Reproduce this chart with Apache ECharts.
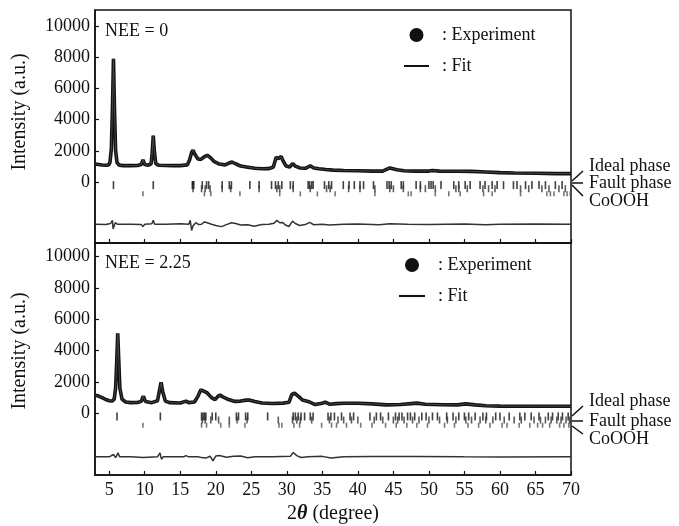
<!DOCTYPE html>
<html>
<head>
<meta charset="utf-8">
<title>XRD Rietveld refinement</title>
<script src="https://cdn.jsdelivr.net/npm/echarts@6/dist/echarts.min.js"></script>
<style>
  html, body { margin: 0; padding: 0; background: #fff; }
  #chart { width: 679px; height: 526px; }
</style>
</head>
<body>
<div id="chart"></div>
<script>
// ---- NEE = 0 : observed / fitted profile ----
const twoTheta0 = [3.0, 3.5, 4.0, 4.5, 4.9, 5.1, 5.3, 5.45, 5.6, 5.75, 5.9, 6.1, 6.4, 7.0, 8.0, 9.0, 9.5, 9.75, 10.0, 10.5,
  10.9, 11.05, 11.2, 11.35, 11.55, 12.0, 13.0, 14.0, 15.0, 16.0, 16.3, 16.6, 16.8, 17.1, 17.5, 17.9, 18.4, 18.8, 19.2, 19.8,
  20.5, 21.3, 21.8, 22.3, 22.8, 23.5, 24.5, 25.5, 26.5, 27.5, 28.1, 28.5, 28.8, 29.2, 29.5, 29.9, 30.4, 30.8, 31.2, 31.8,
  32.6, 33.3, 33.8, 34.5, 35.5, 36.5, 38.0, 40.0, 42.0, 43.5, 44.5, 45.5, 46.5, 48.0, 50.0, 50.5, 51.5, 54.0, 56.0, 58.0,
  60.0, 62.0, 65.0, 68.0, 70.0];
const intensity0 = [1150, 1120, 1090, 1070, 1090, 1250, 2100, 4600, 7900, 4500, 2000, 1250, 1080, 1050, 1050, 1060, 1120, 1420, 1120, 1070,
  1180, 1850, 2980, 2000, 1180, 1070, 1060, 1050, 1050, 1100, 1400, 1900, 2030, 1750, 1480, 1450, 1620, 1710, 1580, 1300,
  1150, 1100, 1200, 1280, 1170, 1020, 950, 880, 850, 860, 960, 1580, 1500, 1640, 1330, 1020, 960, 1180, 1020, 900,
  880, 1030, 900, 850, 800, 760, 740, 720, 700, 700, 900, 780, 720, 700, 700, 740, 700, 690, 680, 640,
  600, 580, 560, 540, 540];
// difference curve (observed - fitted)
const diffTheta0 = [3, 4.5, 5.2, 5.45, 5.55, 5.7, 5.85, 6.2, 8, 9.5, 9.75, 10.0, 11.0, 11.2, 11.4, 13, 15, 16.2, 16.4, 16.6,
  16.8, 17.2, 17.6, 18.0, 18.4, 18.8, 19.4, 20.0, 20.8, 21.5, 22.2, 22.8, 23.5, 24.5, 25.4, 26.5, 27.5, 28.2, 28.6, 29.0,
  29.4, 29.8, 30.3, 30.8, 31.2, 31.8, 32.6, 33.2, 33.8, 35, 36, 38, 40, 43, 44.5, 47, 50, 55, 58, 60, 65, 70];
const residual0 = [0, -20, 50, 250, -300, -350, 100, 0, 0, -20, -150, 0, 30, 250, 0, 0, 30, 0, 250, -400,
  -100, 100, -20, 0, 150, 100, 0, -80, -150, -20, 100, 50, -50, -30, -120, -20, 0, 60, 250, 100,
  120, -50, -140, 200, 50, -80, -20, 120, -30, 0, -50, 0, 20, -30, 40, 0, -20, 20, -30, 0, 20, 0];
const idealTicks0 = [5.6, 11.2, 16.7, 16.8, 16.9, 18.1, 18.7, 19.0, 20.9, 21.9, 22.2, 24.8, 26.1, 27.85, 28.4, 28.8, 29.3, 30.5, 30.9,
  33.0, 33.2, 33.5, 33.7, 35.3, 35.9, 36.3, 37.95, 38.75, 39.5, 40.3, 40.8, 42.2, 44.1, 44.4, 44.7, 46.1, 46.4, 48.2, 48.8,
  50.0, 50.3, 50.6, 51.7, 53.5, 54.2, 55.1, 55.8, 57.2, 57.9, 58.9, 59.6, 60.5, 61.9, 62.4, 63.6, 64.5, 65.5, 66.4, 67.8, 68.75];
const faultTicks0 = [16.8, 18.0, 18.5, 19.2, 20.9, 22.1, 26.1, 28.6, 29.0, 30.9, 33.3, 35.6, 36.1, 38.7, 40.3, 42.4, 44.5, 45.0,
  46.4, 48.8, 49.5, 50.9, 53.8, 54.2, 55.4, 57.6, 58.4, 59.3, 62.9, 64.05, 65.9, 66.9, 68.3, 69.2];
const coohTicks0 = [9.75, 18.4, 19.3, 23.4, 29.0, 31.9, 34.3, 36.8, 42.4, 47.1, 47.5, 50.9, 52.8, 54.4, 57.7, 58.9, 62.9,
  66.6, 67.1, 67.6, 69.0, 69.45, 69.9];

// ---- NEE = 2.25 : observed / fitted profile ----
const twoTheta1 = [3.0, 3.5, 4.0, 4.5, 5.0, 5.4, 5.7, 5.9, 6.05, 6.2, 6.35, 6.5, 6.8, 7.3, 8.0, 9.0, 9.5, 9.8, 10.1, 11.0,
  11.8, 12.05, 12.3, 12.55, 12.9, 13.5, 15.0, 15.8, 16.2, 17.0, 17.5, 17.9, 18.3, 18.8, 19.4, 19.9, 20.3, 20.6, 21.0, 21.8,
  22.7, 23.5, 24.3, 24.8, 25.5, 26.5, 28.0, 29.5, 30.3, 30.7, 31.1, 31.6, 32.2, 33.0, 34.0, 34.8, 35.4, 36.0, 37.0, 38.0,
  40.0, 42.0, 44.0, 46.0, 47.5, 48.3, 49.5, 52.0, 54.0, 55.2, 56.5, 58.0, 60.0, 63.0, 66.0, 70.0];
const intensity1 = [1150, 1100, 1000, 880, 800, 780, 900, 1600, 3200, 5100, 3300, 1600, 900, 720, 680, 690, 760, 1100, 760, 680,
  800, 1400, 1980, 1350, 780, 680, 660, 780, 680, 720, 1100, 1500, 1420, 1300, 1000, 870, 1080, 1160, 1050, 880,
  760, 780, 840, 840, 760, 660, 630, 650, 700, 1200, 1280, 1100, 850, 760, 560, 620, 710, 580, 620, 640,
  640, 600, 540, 560, 620, 650, 580, 550, 540, 600, 540, 480, 460, 450, 450, 450];
const diffTheta1 = [3, 5, 5.6, 5.9, 6.1, 6.25, 6.45, 8, 9.8, 11.8, 12.15, 12.35, 12.6, 15.5, 15.8, 16.2, 17.5, 18.0, 18.6, 19.2,
  19.6, 20.0, 20.5, 21.5, 22.5, 23.5, 24.5, 25.5, 28, 30.5, 30.9, 31.4, 32.0, 33, 35, 36.2, 38, 42, 48, 55, 60, 70];
const residual1 = [0, 0, 150, -50, -150, 250, 0, 0, -50, 0, 250, -150, 0, 0, 80, 0, 0, -50, -80, 40,
  -250, 50, 80, -30, 30, 50, -60, 0, 0, 30, 280, 80, -40, 0, 30, -70, 0, 20, 20, 0, -10, 0];
const idealTicks1 = [6.1, 12.2, 18.0, 18.2, 18.4, 18.6, 19.5, 20.0, 22.9, 23.2, 24.2, 24.5, 27.3, 30.9, 31.2, 31.6, 32.0, 32.5,
  33.3, 33.7, 35.8, 36.2, 36.7, 37.7, 38.9, 39.4, 41.7, 42.6, 43.2, 44.3, 45.3, 45.8, 46.2, 47.0, 47.4, 48.0, 49.0, 49.6,
  50.5, 51.2, 52.5, 53.4, 54.2, 55.0, 55.6, 56.5, 57.6, 58.1, 59.4, 60.0, 61.3, 62.8, 63.5, 64.4, 65.5, 66.8, 67.4, 68.2, 68.8, 69.6];
const faultTicks1 = [18.1, 18.5, 19.3, 20.4, 21.9, 23.0, 24.4, 28.8, 30.8, 31.4, 31.9, 33.5, 36.0, 37.2, 38.0, 39.1, 40.0, 42.3,
  43.5, 45.0, 45.6, 46.5, 47.7, 48.6, 50.0, 51.5, 52.6, 53.8, 55.2, 56.0, 57.2, 58.0, 59.0, 60.6, 62.0, 63.0, 64.8, 65.7,
  66.4, 67.2, 68.0, 68.6, 69.3, 69.8];
const coohTicks1 = [9.75, 18.0, 18.7, 20.7, 21.9, 24.1, 28.9, 29.3, 31.0, 31.8, 34.9, 36.3, 37.0, 38.4, 40.4, 42.0, 43.9, 45.4,
  46.9, 48.3, 49.8, 52.2, 53.6, 55.5, 57.0, 58.6, 60.3, 61.0, 62.7, 64.2, 65.3, 66.0, 67.0, 68.4, 69.0, 69.7];

// ---- axis ticks ----
const xTicks = [5, 10, 15, 20, 25, 30, 35, 40, 45, 50, 55, 60, 65, 70];
const yTicks = [0, 2000, 4000, 6000, 8000, 10000];
const panelTitles = ['NEE = 0', 'NEE = 2.25'];
const phaseNames = ['Ideal phase', 'Fault phase', 'CoOOH'];

// vertical placement (intensity units) of the difference curve and reflection rows
const diffOffset = [-2710, -2780];
const rowLevel = { ideal: -200, fault: -430, cooh: -760 };

const FONT = '"Liberation Serif", "Times New Roman", serif';
const INK = '#111';

const zip = (xs, ys, off = 0) => xs.map((x, i) => [x, ys[i] + off]);

const panels = [
  { tt: twoTheta0, it: intensity0, dt: diffTheta0, rs: residual0,
    ideal: idealTicks0, fault: faultTicks0, cooh: coohTicks0 },
  { tt: twoTheta1, it: intensity1, dt: diffTheta1, rs: residual1,
    ideal: idealTicks1, fault: faultTicks1, cooh: coohTicks1 }
];

const grids = [
  { left: 95, top: 10, width: 476, height: 233 },
  { left: 95, top: 243, width: 476, height: 232 }
];
const yRange = [[-3910, 11026], [-3940, 10875]];

const xAxes = grids.map((g, i) => ({
  type: 'value', gridIndex: i, min: 3, max: 70,
  axisLine: { show: true, onZero: false, lineStyle: { color: INK, width: 1.5 } },
  axisTick: { show: true, inside: true, length: 4, customValues: xTicks, lineStyle: { color: INK, width: 1.2 } },
  axisLabel: { show: i === 1, customValues: xTicks, fontFamily: FONT, fontSize: 18, color: INK, margin: 6,
    formatter: v => String(v) },
  splitLine: { show: false },
  name: i === 1 ? '{n|2}{t|θ}{n| (degree)}' : '',
  nameLocation: 'middle', nameGap: 29,
  nameTextStyle: { rich: {
    n: { fontFamily: FONT, fontSize: 20, color: INK },
    t: { fontFamily: FONT, fontSize: 20, color: INK, fontStyle: 'italic', fontWeight: 'bold' }
  } }
}));

const yAxes = grids.map((g, i) => ({
  type: 'value', gridIndex: i, min: yRange[i][0], max: yRange[i][1],
  axisLine: { show: true, onZero: false, lineStyle: { color: INK, width: 1.5 } },
  axisTick: { show: true, inside: true, length: 4, customValues: yTicks, lineStyle: { color: INK, width: 1.2 } },
  axisLabel: { show: true, customValues: yTicks, fontFamily: FONT, fontSize: 18, color: INK, margin: 5,
    formatter: v => String(v) },
  splitLine: { show: false }
}));

const series = [];
panels.forEach((p, i) => {
  series.push({
    name: 'Experiment', type: 'line', xAxisIndex: i, yAxisIndex: i,
    data: zip(p.tt, p.it), symbol: 'none', silent: true, z: 2,
    itemStyle: { color: INK }, lineStyle: { color: INK, width: 3.6 }
  });
  series.push({
    name: 'Fit', type: 'line', xAxisIndex: i, yAxisIndex: i,
    data: zip(p.tt, p.it), symbol: 'none', silent: true, z: 3,
    itemStyle: { color: '#444' }, lineStyle: { color: '#444', width: 1 }
  });
  series.push({
    name: 'Difference', type: 'line', xAxisIndex: i, yAxisIndex: i,
    data: zip(p.dt, p.rs, diffOffset[i]), symbol: 'none', silent: true, z: 2,
    lineStyle: { color: '#333', width: 1.5 }
  });
  [['ideal', '#111', 8], ['fault', '#333', 7], ['cooh', '#555', 5]].forEach(([key, col, h]) => {
    series.push({
      name: key, type: 'scatter', xAxisIndex: i, yAxisIndex: i,
      data: p[key].map(x => [x, rowLevel[key]]),
      symbol: 'rect', symbolSize: [1.6, h], silent: true,
      itemStyle: { color: col }
    });
  });
});

const legendCommon = {
  orient: 'vertical', padding: 0, itemHeight: 14, itemGap: 13,
  formatter: n => ': ' + n,
  selectedMode: false,
  symbolKeepAspect: true,
  textStyle: { fontFamily: FONT, fontSize: 18, color: INK, padding: [0, 0, 0, 8] },
  data: [
    { name: 'Experiment', icon: 'circle', itemStyle: { color: INK } },
    { name: 'Fit', icon: 'path://M0,0H25V2H0Z', itemStyle: { color: INK } }
  ]
};

const graphics = [];
const labelCenters = [112, 351];
const titleTops = [22, 254];
const phasePointerY = [[171, 183, 196], [406, 421, 434]];
const phaseStartY = [[181, 183, 185], [416, 421, 426]];
[0, 1].forEach(i => {
  graphics.push({
    type: 'text', x: 20, y: labelCenters[i], rotation: Math.PI / 2,
    style: { text: 'Intensity (a.u.)', font: '20px ' + FONT, fill: INK, align: 'center', verticalAlign: 'middle' }
  });
  graphics.push({
    type: 'text', left: 105, top: titleTops[i],
    style: { text: panelTitles[i], font: '18px ' + FONT, fill: INK }
  });
  phaseNames.forEach((nm, k) => {
    graphics.push({
      type: 'line',
      shape: { x1: 572, y1: phaseStartY[i][k], x2: 583, y2: phasePointerY[i][k] },
      style: { stroke: INK, lineWidth: 1.5 }
    });
    graphics.push({
      type: 'text', x: 589, y: phasePointerY[i][k] + (k === 0 ? -5 : k === 2 ? 5 : 0),
      style: { text: nm, font: '18px ' + FONT, fill: INK, verticalAlign: 'middle' }
    });
  });
});

const chart = echarts.init(document.getElementById('chart'), null, { renderer: 'canvas' });
chart.setOption({
  backgroundColor: '#fff',
  animation: false,
  grid: grids.map(g => Object.assign({ show: true, borderColor: INK, borderWidth: 1.5, backgroundColor: 'transparent' }, g)),
  xAxis: xAxes,
  yAxis: yAxes,
  legend: [
    Object.assign({}, legendCommon, { left: 404, top: 26, itemWidth: 25 }),
    Object.assign({}, legendCommon, { left: 399, top: 256, itemWidth: 26 })
  ],
  series: series,
  graphic: graphics
});
</script>
</body>
</html>
